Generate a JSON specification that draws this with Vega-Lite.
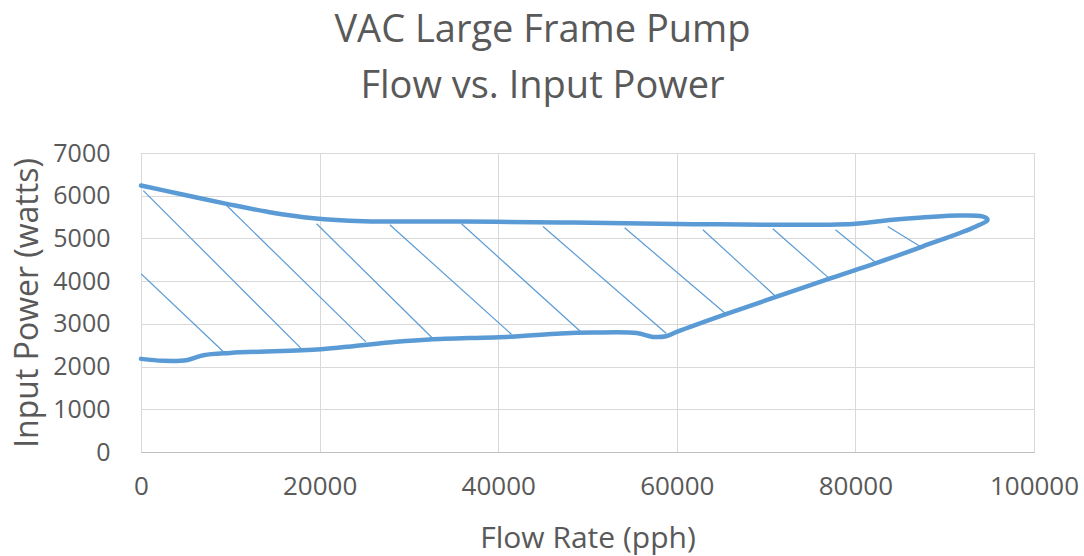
{
  "$schema": "https://vega.github.io/schema/vega-lite/v6.json",
  "width": 893,
  "height": 299,
  "autosize": "none",
  "padding": {"left": 141, "top": 153, "right": 50, "bottom": 104},
  "background": "white",
  "config": {
    "font": "Open Sans",
    "view": {"stroke": "#D9D9D9", "strokeWidth": 1}
  },
  "title": {
    "text": ["VAC Large Frame Pump", "Flow vs. Input Power"],
    "fontSize": 38,
    "fontWeight": "normal",
    "color": "#595959",
    "font": "Open Sans",
    "anchor": "middle",
    "frame": "group",
    "dx": -45,
    "lineHeight": 56,
    "offset": 35
  },
  "datasets": {
    "curve": [
      {"i": 0, "flow": 0, "power": 6240},
      {"i": 1, "flow": 4400, "power": 6040},
      {"i": 2, "flow": 9600, "power": 5810},
      {"i": 3, "flow": 14400, "power": 5615},
      {"i": 4, "flow": 19300, "power": 5475},
      {"i": 5, "flow": 24900, "power": 5405},
      {"i": 6, "flow": 36000, "power": 5395},
      {"i": 7, "flow": 47000, "power": 5375},
      {"i": 8, "flow": 60000, "power": 5340},
      {"i": 9, "flow": 79700, "power": 5340},
      {"i": 10, "flow": 84200, "power": 5435},
      {"i": 11, "flow": 91600, "power": 5535},
      {"i": 12, "flow": 94200, "power": 5515},
      {"i": 13, "flow": 94800, "power": 5440},
      {"i": 14, "flow": 93500, "power": 5280},
      {"i": 15, "flow": 87500, "power": 4810},
      {"i": 16, "flow": 82300, "power": 4420},
      {"i": 17, "flow": 77100, "power": 4060},
      {"i": 18, "flow": 71100, "power": 3630},
      {"i": 19, "flow": 65500, "power": 3225},
      {"i": 20, "flow": 60000, "power": 2810},
      {"i": 21, "flow": 58800, "power": 2710},
      {"i": 22, "flow": 57300, "power": 2695},
      {"i": 23, "flow": 55500, "power": 2785},
      {"i": 24, "flow": 50600, "power": 2795},
      {"i": 25, "flow": 47000, "power": 2775},
      {"i": 26, "flow": 41300, "power": 2700},
      {"i": 27, "flow": 32300, "power": 2635},
      {"i": 28, "flow": 28600, "power": 2580},
      {"i": 29, "flow": 19700, "power": 2400},
      {"i": 30, "flow": 10000, "power": 2320},
      {"i": 31, "flow": 7000, "power": 2265},
      {"i": 32, "flow": 5100, "power": 2150},
      {"i": 33, "flow": 2500, "power": 2135},
      {"i": 34, "flow": 0, "power": 2180}
    ],
    "hatch": [
      {"seg": "A", "flow": 0, "power": 4175}, {"seg": "A", "flow": 9290, "power": 2336},
      {"seg": "B", "flow": 260, "power": 6120}, {"seg": "B", "flow": 17980, "power": 2414},
      {"seg": "C", "flow": 9590, "power": 5771}, {"seg": "C", "flow": 25180, "power": 2577},
      {"seg": "D", "flow": 19660, "power": 5343}, {"seg": "D", "flow": 32790, "power": 2633},
      {"seg": "E", "flow": 27860, "power": 5320}, {"seg": "E", "flow": 41480, "power": 2757},
      {"seg": "F", "flow": 35890, "power": 5343}, {"seg": "F", "flow": 49310, "power": 2804},
      {"seg": "G", "flow": 45020, "power": 5280}, {"seg": "G", "flow": 58830, "power": 2773},
      {"seg": "H", "flow": 54160, "power": 5250}, {"seg": "H", "flow": 65540, "power": 3224},
      {"seg": "I", "flow": 62920, "power": 5203}, {"seg": "I", "flow": 71140, "power": 3629},
      {"seg": "J", "flow": 70750, "power": 5227}, {"seg": "J", "flow": 77100, "power": 4058},
      {"seg": "K", "flow": 77770, "power": 5203}, {"seg": "K", "flow": 82330, "power": 4423},
      {"seg": "L", "flow": 83620, "power": 5280}, {"seg": "L", "flow": 87360, "power": 4797}
    ]
  },
  "encoding": {
    "x": {
      "field": "flow",
      "type": "quantitative",
      "scale": {"domain": [0, 100000], "nice": false},
      "axis": {
        "title": "Flow Rate (pph)",
        "values": [0, 20000, 40000, 60000, 80000, 100000],
        "format": "d",
        "grid": true,
        "gridColor": "#D9D9D9",
        "domainColor": "#BFBFBF",
        "ticks": false,
        "labelFontSize": 26,
        "labelColor": "#595959",
        "labelPadding": 21,
        "labelFlush": false,
        "titleFontSize": 30,
        "titleFontWeight": "normal",
        "titleColor": "#595959",
        "titlePadding": 24
      }
    },
    "y": {
      "field": "power",
      "type": "quantitative",
      "scale": {"domain": [0, 7000], "nice": false},
      "axis": {
        "title": "Input Power (watts)",
        "values": [0, 1000, 2000, 3000, 4000, 5000, 6000, 7000],
        "format": "d",
        "grid": true,
        "gridColor": "#D9D9D9",
        "domain": false,
        "ticks": false,
        "labelFontSize": 25,
        "labelColor": "#595959",
        "labelPadding": 31,
        "titleFontSize": 32,
        "titleFontWeight": "normal",
        "titleColor": "#595959",
        "titlePadding": 8
      }
    }
  },
  "layer": [
    {
      "data": {"name": "hatch"},
      "mark": {"type": "line", "color": "#5B9BD5", "strokeWidth": 1.2, "clip": true},
      "encoding": {"detail": {"field": "seg", "type": "nominal"}}
    },
    {
      "data": {"name": "curve"},
      "mark": {"type": "line", "color": "#5B9BD5", "strokeWidth": 4.5, "interpolate": "catmull-rom", "strokeCap": "round", "strokeJoin": "round"},
      "encoding": {"order": {"field": "i", "type": "quantitative"}}
    }
  ]
}
